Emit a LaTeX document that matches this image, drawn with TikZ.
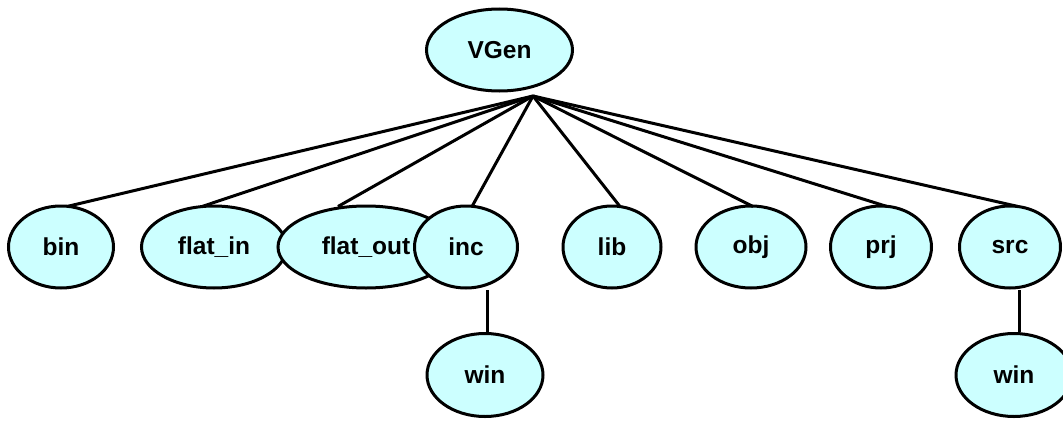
\documentclass[tikz,border=0pt]{standalone}
\usepackage{fontspec}
\setmainfont{Liberation Sans}
\usetikzlibrary{shapes.geometric}
\definecolor{nodefill}{HTML}{CCFFFF}
\begin{document}
\begin{tikzpicture}[x=1pt,y=-1pt,
  dirnode/.style={ellipse, draw=black, line width=3pt, fill=nodefill, inner sep=0pt,
    minimum height=82pt, font=\fontsize{24.5}{28}\selectfont\bfseries},
  edge/.style={line width=3pt, black}]
\useasboundingbox (0,0) rectangle (1063,423);
\node[dirnode, minimum width=146pt] (vgen) at (499.5,50) {VGen};
\node[dirnode, minimum width=105pt] (bin) at (61,247) {bin};
\node[dirnode, minimum width=145pt] (flatin) at (214,247) {flat\_in};
\node[dirnode, minimum width=176pt] (flatout) at (366,247) {flat\_out};
\node[dirnode, minimum width=103pt] (inc) at (466,247) {inc};
\node[dirnode, minimum width=98pt] (lib) at (612,247) {lib};
\node[dirnode, minimum width=110pt] (obj) at (751,247) {obj};
\node[dirnode, minimum width=101pt] (prj) at (881,247) {prj};
\node[dirnode, minimum width=101pt] (src) at (1010,247) {src};
\node[dirnode, minimum width=116pt, minimum height=83pt] (wina) at (485,375) {win};
\node[dirnode, minimum width=116pt, minimum height=83pt] (winb) at (1014,375) {win};
\coordinate (hub) at (533,96);
\draw[edge] (hub) -- ([xshift=6pt,yshift=-2pt]bin.north);
\draw[edge] (hub) -- ([xshift=-12pt,yshift=-2pt]flatin.north);
\draw[edge] (hub) -- ([xshift=-28pt,yshift=-2pt]flatout.north);
\draw[edge] (hub) -- ([xshift=6pt,yshift=-2pt]inc.north);
\draw[edge] (hub) -- ([xshift=8pt,yshift=-2pt]lib.north);
\draw[edge] (hub) -- ([xshift=2pt,yshift=-2pt]obj.north);
\draw[edge] (hub) -- ([xshift=6pt,yshift=-2pt]prj.north);
\draw[edge] (hub) -- ([xshift=8pt,yshift=-2pt]src.north);
\draw[edge] ([xshift=2pt]wina.north) -- ([xshift=2pt]wina.north |- inc.south);
\draw[edge] ([xshift=5pt]winb.north) -- ([xshift=5pt]winb.north |- src.south);
\end{tikzpicture}
\end{document}
